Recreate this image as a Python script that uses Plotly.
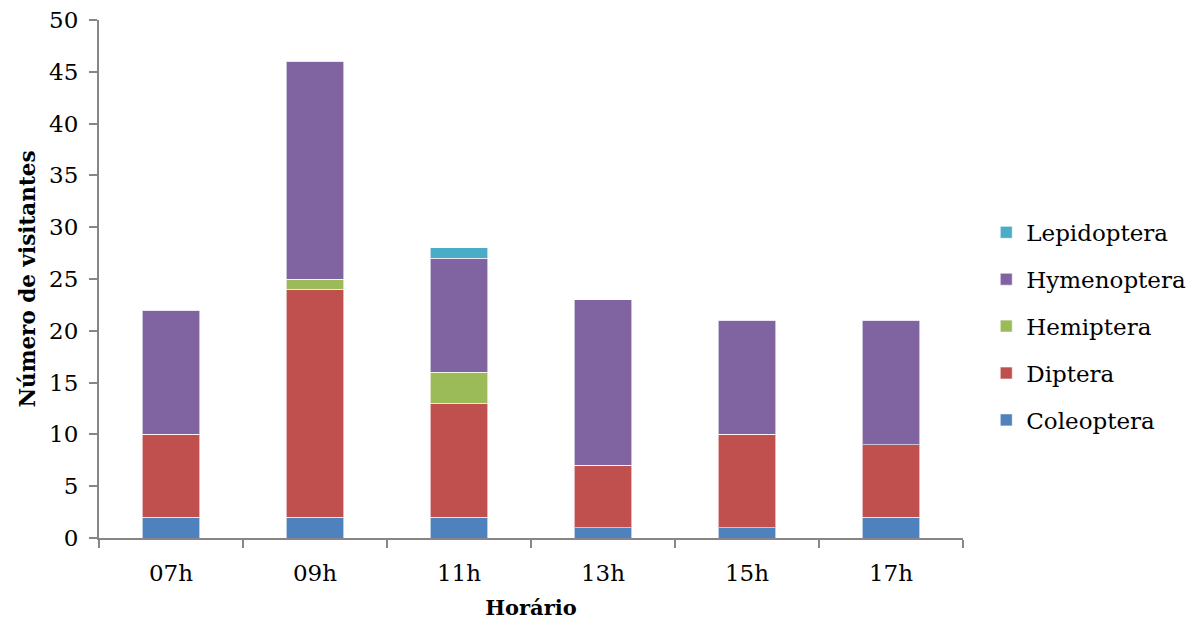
import plotly.graph_objects as go

categories = ["07h", "09h", "11h", "13h", "15h", "17h"]
coleoptera = [2, 2, 2, 1, 1, 2]
diptera = [8, 22, 11, 6, 9, 7]
hemiptera = [0, 1, 3, 0, 0, 0]
hymenoptera = [12, 21, 11, 16, 11, 12]
lepidoptera = [0, 0, 1, 0, 0, 0]

series = [
    ("Coleoptera", coleoptera, "#4F81BD"),
    ("Diptera", diptera, "#C0504D"),
    ("Hemiptera", hemiptera, "#9BBB59"),
    ("Hymenoptera", hymenoptera, "#8064A2"),
    ("Lepidoptera", lepidoptera, "#4BACC6"),
]

FONT = "DejaVu Serif"
fig = go.Figure()
n = len(series)
for i, (name, vals, color) in enumerate(series):
    fig.add_trace(go.Bar(
        x=categories, y=vals, name=name, legendgroup=name, legendrank=n - i,
        marker=dict(color=color, line=dict(color="rgba(255,255,255,0.6)", width=1)),
    ))

fig.update_layout(
    barmode="stack",
    bargap=0.6,
    width=1194, height=624,
    margin=dict(l=99, r=231, t=20, b=86),
    plot_bgcolor="white", paper_bgcolor="white",
    font=dict(family=FONT, size=23, color="black"),
    legend=dict(xref="container", yref="container", x=0.826, y=0.477,
                xanchor="left", yanchor="middle",
                traceorder="grouped", tracegroupgap=14,
                font=dict(size=23)),
    xaxis=dict(
        automargin=False,
        showline=True, linecolor="#868686", linewidth=2,
        ticks="outside", tickson="boundaries", ticklen=8, tickcolor="#868686", tickwidth=2,
        ticklabelstandoff=13,
        title=dict(text="<b>Horário</b>", standoff=16, font=dict(size=21)),
    ),
    yaxis=dict(
        automargin=False,
        range=[0, 50], dtick=5, showgrid=False, zeroline=False,
        showline=True, linecolor="#868686", linewidth=2,
        ticks="outside", ticklen=8, tickcolor="#868686", tickwidth=2,
        ticklabelstandoff=6,
        title=dict(text="<b>Número de visitantes</b>", standoff=8, font=dict(size=21.5)),
    ),
)

fig.write_html("out.html")
